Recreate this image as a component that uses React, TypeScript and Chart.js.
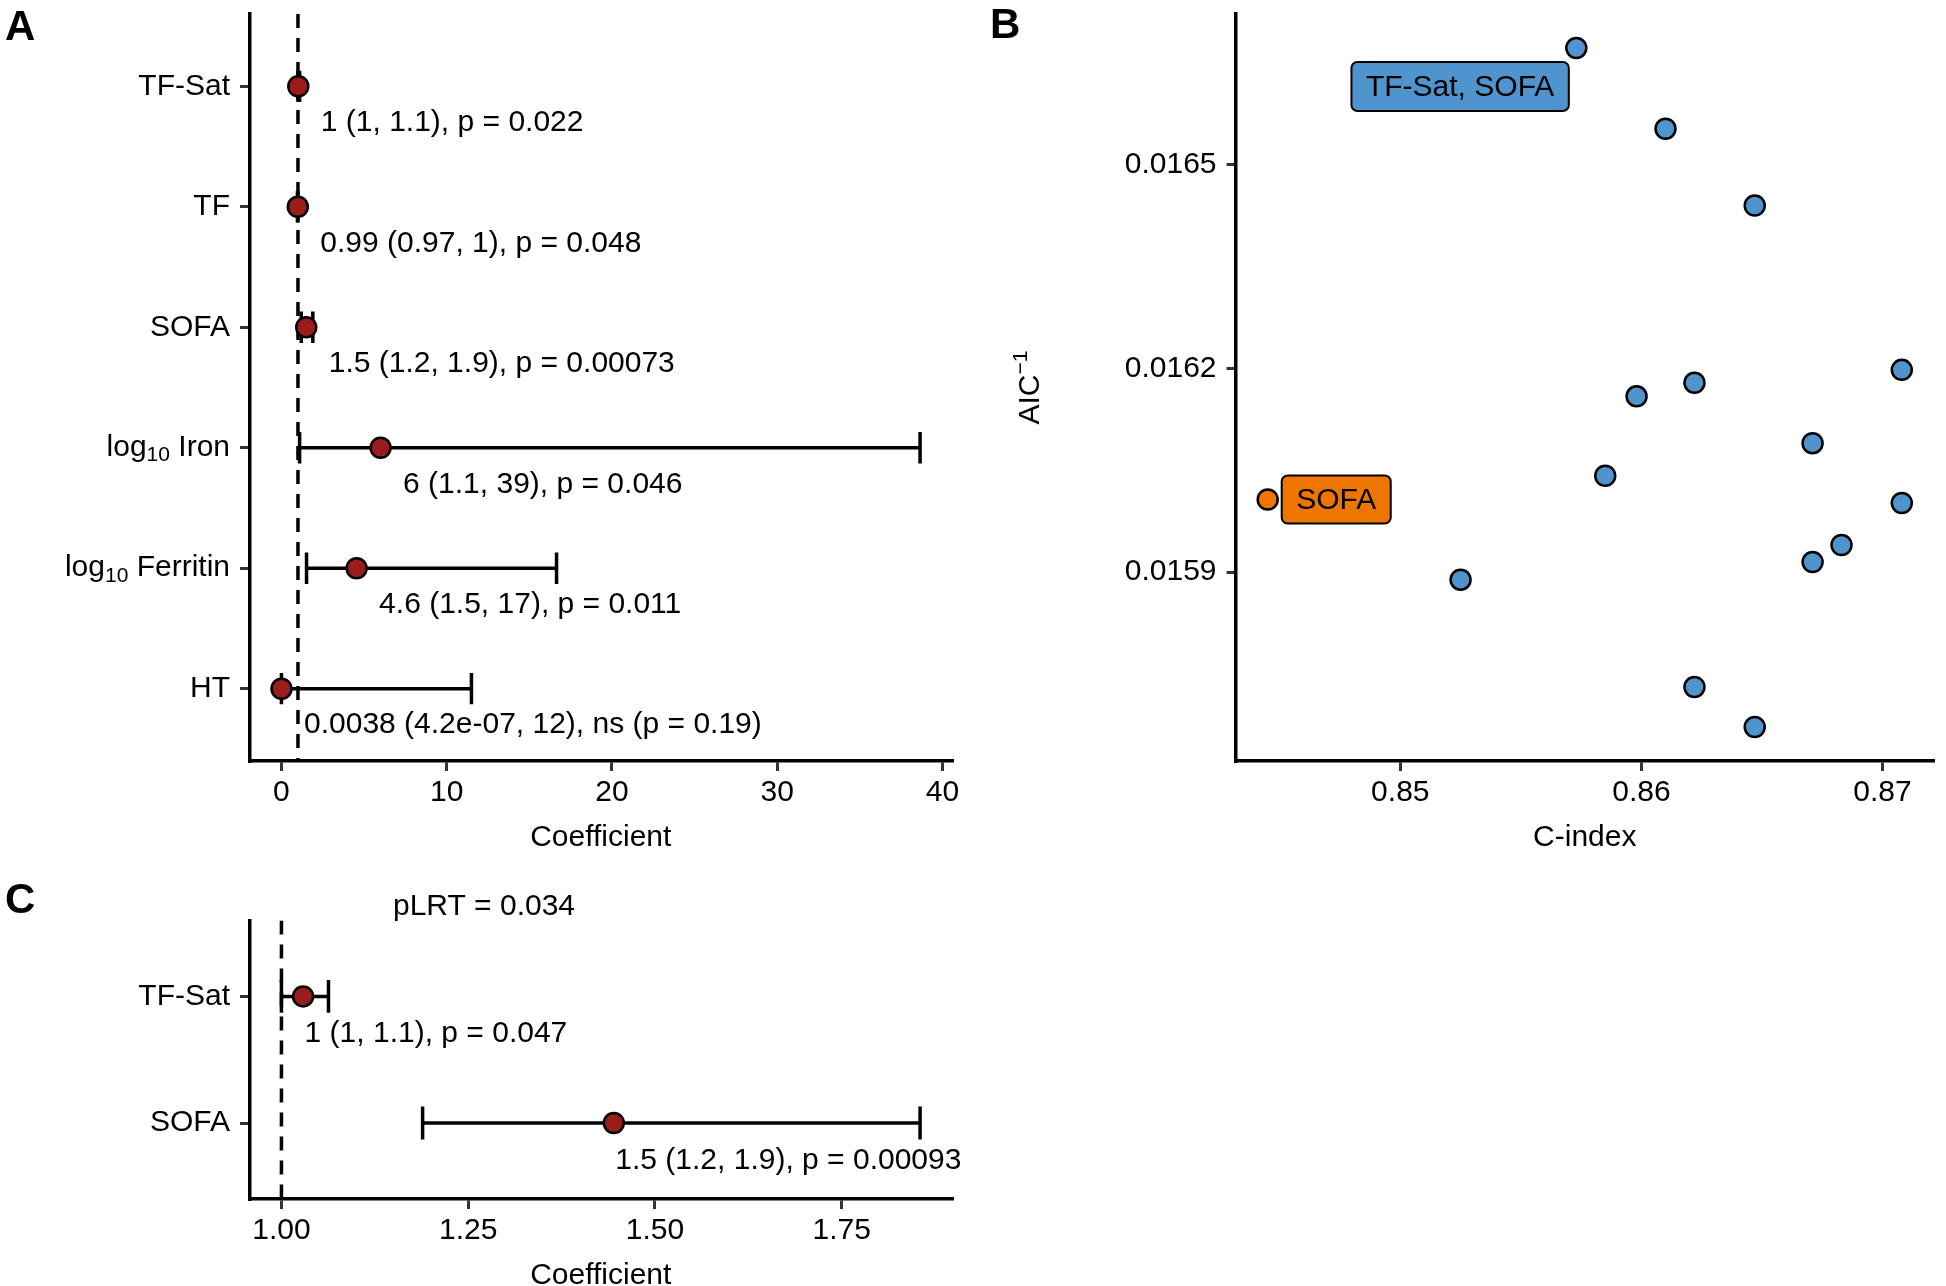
import React, { useEffect, useRef } from 'react';
import { Chart, registerables } from 'chart.js';

Chart.register(...registerables);

const FONT = '"Liberation Sans", Arial, Helvetica, sans-serif';
const RED = '#9b1c1c';
const BLUE = '#4f94cd';
const ORANGE = '#ee7600';

// ---------- Panel A : univariable forest plot ----------
const aTerms = ['TF-Sat', 'TF', 'SOFA', 'log10 Iron', 'log10 Ferritin', 'HT'];
const aEstimate = [1.02, 0.99, 1.5, 6.0, 4.55, 0.0038];
const aLower = [1.0, 0.97, 1.2, 1.1, 1.52, 0.00000042];
const aUpper = [1.1, 1.0, 1.9, 38.65, 16.65, 11.5];
const aLabels = [
  '1 (1, 1.1), p = 0.022',
  '0.99 (0.97, 1), p = 0.048',
  '1.5 (1.2, 1.9), p = 0.00073',
  '6 (1.1, 39), p = 0.046',
  '4.6 (1.5, 17), p = 0.011',
  '0.0038 (4.2e-07, 12), ns (p = 0.19)',
];
const aTicks = [0, 10, 20, 30, 40];

// ---------- Panel B : C-index vs AIC^-1 ----------
const bCindex = [0.8573, 0.861, 0.8647, 0.8708, 0.8622, 0.8598, 0.8671, 0.8585, 0.8708, 0.8683, 0.8671, 0.8525, 0.8622, 0.8647];
const bAicInv = [0.016672, 0.016553, 0.01644, 0.016198, 0.016179, 0.016159, 0.01609, 0.016042, 0.016002, 0.01594, 0.015915, 0.015889, 0.015731, 0.015672];
const bSofaCindex = [0.8445];
const bSofaAicInv = [0.016007];
const bXTicks = [0.85, 0.86, 0.87];
const bYTicks = [0.0159, 0.0162, 0.0165];
const bBestLabel = 'TF-Sat, SOFA';
const bSofaLabel = 'SOFA';

// ---------- Panel C : multivariable forest plot ----------
const cTerms = ['TF-Sat', 'SOFA'];
const cEstimate = [1.029, 1.445];
const cLower = [1.0, 1.189];
const cUpper = [1.063, 1.855];
const cLabels = ['1 (1, 1.1), p = 0.047', '1.5 (1.2, 1.9), p = 0.00093'];
const cTicks = [1.0, 1.25, 1.5, 1.75];
const cTitle = 'pLRT = 0.034';

type Part = { t: string; s?: 'sub' | 'sup' };

function parseTerm(term: string): Part[] {
  if (term.startsWith('log10 ')) return [{ t: 'log' }, { t: '10', s: 'sub' }, { t: term.slice(5) }];
  return [{ t: term }];
}

function drawParts(ctx: CanvasRenderingContext2D, parts: Part[], x: number, y: number, align: 'left' | 'right' | 'center', size: number) {
  const small = Math.round(size * 0.7);
  const widths = parts.map((p) => {
    ctx.font = `${p.s ? small : size}px ${FONT}`;
    return ctx.measureText(p.t).width;
  });
  const total = widths.reduce((a, b) => a + b, 0);
  let cx = align === 'left' ? x : align === 'right' ? x - total : x - total / 2;
  ctx.textAlign = 'left';
  parts.forEach((p, i) => {
    ctx.font = `${p.s ? small : size}px ${FONT}`;
    const dy = p.s === 'sub' ? size * 0.26 : p.s === 'sup' ? -size * 0.4 : 0;
    ctx.fillText(p.t, cx, y + dy);
    cx += widths[i];
  });
}

function expand(lo: number[], hi: number[]): [number, number] {
  const mn = Math.min(...lo);
  const mx = Math.max(...hi);
  const r = mx - mn;
  return [mn - 0.05 * r, mx + 0.05 * r];
}

const gridOpts = (tl: number) => ({
  display: true,
  drawOnChartArea: false,
  drawTicks: true,
  tickLength: tl,
  lineWidth: 3,
  color: '#333333',
});
const borderOpts = { display: true, color: '#000000', width: 3.5 };

const noPad = (sc: any) => {
  sc.paddingTop = 0;
  sc.paddingBottom = 0;
  sc.paddingLeft = 0;
  sc.paddingRight = 0;
};

interface ForestSpec {
  terms: string[];
  est: number[];
  lo: number[];
  hi: number[];
  labels: string[];
  ticks: number[];
  decimals: number;
  yWidth: number;
  xHeight: number;
  padTop: number;
  padRight: number;
  labelDx: number;
  labelDy: number;
  letter: string;
  letterY: number;
  title?: string;
  titleX?: number;
  titleY?: number;
}

function forestConfig(s: ForestSpec): any {
  const n = s.terms.length;
  const CAP = 0.13;
  const [xmin, xmax] = expand(s.lo.concat(s.est), s.hi.concat(s.est));
  const line = (data: { x: number; y: number }[]) => ({
    type: 'scatter',
    showLine: true,
    data,
    borderColor: '#000',
    borderWidth: 3.5,
    borderCapStyle: 'butt',
    pointRadius: 0,
    order: 1,
  });
  const datasets: any[] = [
    {
      type: 'scatter',
      data: s.est.map((v, i) => ({ x: v, y: i })),
      pointRadius: 10,
      pointBorderWidth: 2.5,
      pointBackgroundColor: RED,
      pointBorderColor: '#000',
      backgroundColor: RED,
      borderColor: '#000',
      order: 0,
    },
  ];
  s.terms.forEach((_, i) => {
    datasets.push(line([{ x: s.lo[i], y: i }, { x: s.hi[i], y: i }]));
    datasets.push(line([{ x: s.lo[i], y: i - CAP }, { x: s.lo[i], y: i + CAP }]));
    datasets.push(line([{ x: s.hi[i], y: i - CAP }, { x: s.hi[i], y: i + CAP }]));
  });
  datasets.push({
    ...line([{ x: 1, y: -0.6 }, { x: 1, y: n - 0.4 }]),
    borderDash: [14, 10],
    order: 2,
  });

  const textPlugin = {
    id: 'forestText' + s.letter,
    afterDraw(chart: any) {
      const ctx: CanvasRenderingContext2D = chart.ctx;
      const xs = chart.scales.x;
      const ys = chart.scales.y;
      const ca = chart.chartArea;
      ctx.save();
      ctx.fillStyle = '#000';
      ctx.textBaseline = 'middle';
      s.terms.forEach((t, i) => {
        drawParts(ctx, parseTerm(t), ca.left - 19.5, ys.getPixelForValue(i), 'right', 30);
      });
      s.labels.forEach((t, i) => {
        drawParts(ctx, [{ t }], xs.getPixelForValue(s.est[i]) + s.labelDx, ys.getPixelForValue(i) + s.labelDy, 'left', 30);
      });
      ctx.textBaseline = 'alphabetic';
      drawParts(ctx, [{ t: 'Coefficient' }], (ca.left + ca.right) / 2, ca.bottom + 85, 'center', 30);
      if (s.title) drawParts(ctx, [{ t: s.title }], s.titleX!, s.titleY!, 'center', 30);
      ctx.font = `bold 42px ${FONT}`;
      ctx.textAlign = 'left';
      ctx.fillText(s.letter, 5, s.letterY);
      ctx.restore();
    },
  };

  return {
    type: 'scatter',
    data: { datasets },
    plugins: [textPlugin],
    options: {
      animation: false,
      responsive: false,
      devicePixelRatio: 1,
      events: [],
      layout: { padding: { left: 0, top: s.padTop, right: s.padRight, bottom: 0 } },
      plugins: { legend: { display: false }, tooltip: { enabled: false }, title: { display: false } },
      scales: {
        x: {
          type: 'linear',
          position: 'bottom',
          min: xmin,
          max: xmax,
          afterBuildTicks: (sc: any) => {
            sc.ticks = s.ticks.map((v) => ({ value: v }));
          },
          ticks: {
            font: { family: FONT, size: 30 },
            color: '#000',
            padding: 4,
            maxRotation: 0,
            callback: (v: any) => Number(v).toFixed(s.decimals),
          },
          grid: gridOpts(10),
          border: borderOpts,
          afterFit: (sc: any) => {
            sc.height = s.xHeight;
            noPad(sc);
          },
        },
        y: {
          type: 'linear',
          position: 'left',
          min: -0.6,
          max: n - 0.4,
          reverse: true,
          afterBuildTicks: (sc: any) => {
            sc.ticks = s.terms.map((_, i) => ({ value: i }));
          },
          ticks: { display: false },
          grid: gridOpts(9.5),
          border: borderOpts,
          afterFit: (sc: any) => {
            sc.width = s.yWidth;
            noPad(sc);
          },
        },
      },
    },
  };
}

function scatterConfig(): any {
  const allC = bCindex.concat(bSofaCindex);
  const allA = bAicInv.concat(bSofaAicInv);
  const [xmin, xmax] = expand(allC, allC);
  const [ymin, ymax] = expand(allA, allA);

  const labelPlugin = {
    id: 'scatterText',
    afterDraw(chart: any) {
      const ctx: CanvasRenderingContext2D = chart.ctx;
      const xs = chart.scales.x;
      const ys = chart.scales.y;
      const ca = chart.chartArea;
      ctx.save();
      const box = (text: string, fill: string, left: number, cy: number, h: number) => {
        ctx.font = `30px ${FONT}`;
        const w = ctx.measureText(text).width + 29;
        ctx.beginPath();
        (ctx as any).roundRect(left, cy - h / 2, w, h, 6);
        ctx.fillStyle = fill;
        ctx.fill();
        ctx.lineWidth = 2;
        ctx.strokeStyle = '#000';
        ctx.stroke();
        ctx.fillStyle = '#000';
        ctx.textAlign = 'center';
        ctx.textBaseline = 'middle';
        ctx.fillText(text, left + w / 2, cy + 1);
        return w;
      };
      let bi = 0;
      bAicInv.forEach((v, i) => {
        if (v > bAicInv[bi]) bi = i;
      });
      const px = xs.getPixelForValue(bCindex[bi]);
      const py = ys.getPixelForValue(bAicInv[bi]);
      ctx.font = `30px ${FONT}`;
      const w1 = ctx.measureText(bBestLabel).width + 29;
      box(bBestLabel, BLUE, px - 7.5 - w1, py + 38.5, 49);
      const sx = xs.getPixelForValue(bSofaCindex[0]);
      const sy = ys.getPixelForValue(bSofaAicInv[0]);
      box(bSofaLabel, ORANGE, sx + 14, sy, 48);

      ctx.fillStyle = '#000';
      ctx.textBaseline = 'alphabetic';
      drawParts(ctx, [{ t: 'C-index' }], (ca.left + ca.right) / 2, ca.bottom + 85, 'center', 30);
      ctx.save();
      ctx.translate(58.5, (ca.top + ca.bottom) / 2);
      ctx.rotate(-Math.PI / 2);
      drawParts(ctx, [{ t: 'AIC' }, { t: '\u22121', s: 'sup' }], 0, 0, 'center', 30);
      ctx.restore();
      ctx.font = `bold 42px ${FONT}`;
      ctx.textAlign = 'left';
      ctx.fillText('B', 10, 38);
      ctx.restore();
    },
  };

  const tickFont = { family: FONT, size: 30 };
  return {
    type: 'scatter',
    data: {
      datasets: [
        {
          data: bCindex.map((c, i) => ({ x: c, y: bAicInv[i] })),
          pointRadius: 10,
          pointBorderWidth: 2.5,
          pointBackgroundColor: BLUE,
          pointBorderColor: '#000',
          backgroundColor: BLUE,
          borderColor: '#000',
        },
        {
          data: bSofaCindex.map((c, i) => ({ x: c, y: bSofaAicInv[i] })),
          pointRadius: 10,
          pointBorderWidth: 2.5,
          pointBackgroundColor: ORANGE,
          pointBorderColor: '#000',
          backgroundColor: ORANGE,
          borderColor: '#000',
        },
      ],
    },
    plugins: [labelPlugin],
    options: {
      animation: false,
      responsive: false,
      devicePixelRatio: 1,
      events: [],
      layout: { padding: { left: 0, top: 14, right: 0, bottom: 0 } },
      plugins: { legend: { display: false }, tooltip: { enabled: false }, title: { display: false } },
      scales: {
        x: {
          type: 'linear',
          min: xmin,
          max: xmax,
          afterBuildTicks: (sc: any) => {
            sc.ticks = bXTicks.map((v) => ({ value: v }));
          },
          ticks: { font: tickFont, color: '#000', padding: 4, maxRotation: 0, callback: (v: any) => Number(v).toFixed(2) },
          grid: gridOpts(10),
          border: borderOpts,
          afterFit: (sc: any) => {
            sc.height = 99;
            noPad(sc);
          },
        },
        y: {
          type: 'linear',
          min: ymin,
          max: ymax,
          afterBuildTicks: (sc: any) => {
            sc.ticks = bYTicks.map((v) => ({ value: v }));
          },
          ticks: { font: tickFont, color: '#000', padding: 10, callback: (v: any) => Number(v).toFixed(4) },
          grid: gridOpts(9.5),
          border: borderOpts,
          afterFit: (sc: any) => {
            sc.width = 256;
            noPad(sc);
          },
        },
      },
    },
  };
}

export default function App() {
  const aRef = useRef<HTMLCanvasElement>(null);
  const bRef = useRef<HTMLCanvasElement>(null);
  const cRef = useRef<HTMLCanvasElement>(null);

  useEffect(() => {
    const charts = [
      new Chart(
        aRef.current!,
        forestConfig({
          terms: aTerms,
          est: aEstimate,
          lo: aLower,
          hi: aUpper,
          labels: aLabels,
          ticks: aTicks,
          decimals: 0,
          yWidth: 249.5,
          xHeight: 99,
          padTop: 14,
          padRight: 28,
          labelDx: 22.5,
          labelDy: 36.5,
          letter: 'A',
          letterY: 40,
        })
      ),
      new Chart(bRef.current!, scatterConfig()),
      new Chart(
        cRef.current!,
        forestConfig({
          terms: cTerms,
          est: cEstimate,
          lo: cLower,
          hi: cUpper,
          labels: cLabels,
          ticks: cTicks,
          decimals: 2,
          yWidth: 249.5,
          xHeight: 87,
          padTop: 60.4,
          padRight: 28,
          labelDx: 1.5,
          labelDy: 37.5,
          letter: 'C',
          letterY: 53,
          title: cTitle,
          titleX: 484,
          titleY: 55,
        })
      ),
    ];
    return () => charts.forEach((c) => c.destroy());
  }, []);

  return (
    <div style={{ position: 'fixed', left: 0, top: 0, width: 1946, height: 1286, background: '#ffffff', overflow: 'hidden' }}>
      <canvas ref={aRef} width={980} height={860} style={{ position: 'absolute', left: 0, top: 0 }} />
      <canvas ref={bRef} width={966} height={860} style={{ position: 'absolute', left: 980, top: 0 }} />
      <canvas ref={cRef} width={980} height={426} style={{ position: 'absolute', left: 0, top: 860 }} />
    </div>
  );
}
